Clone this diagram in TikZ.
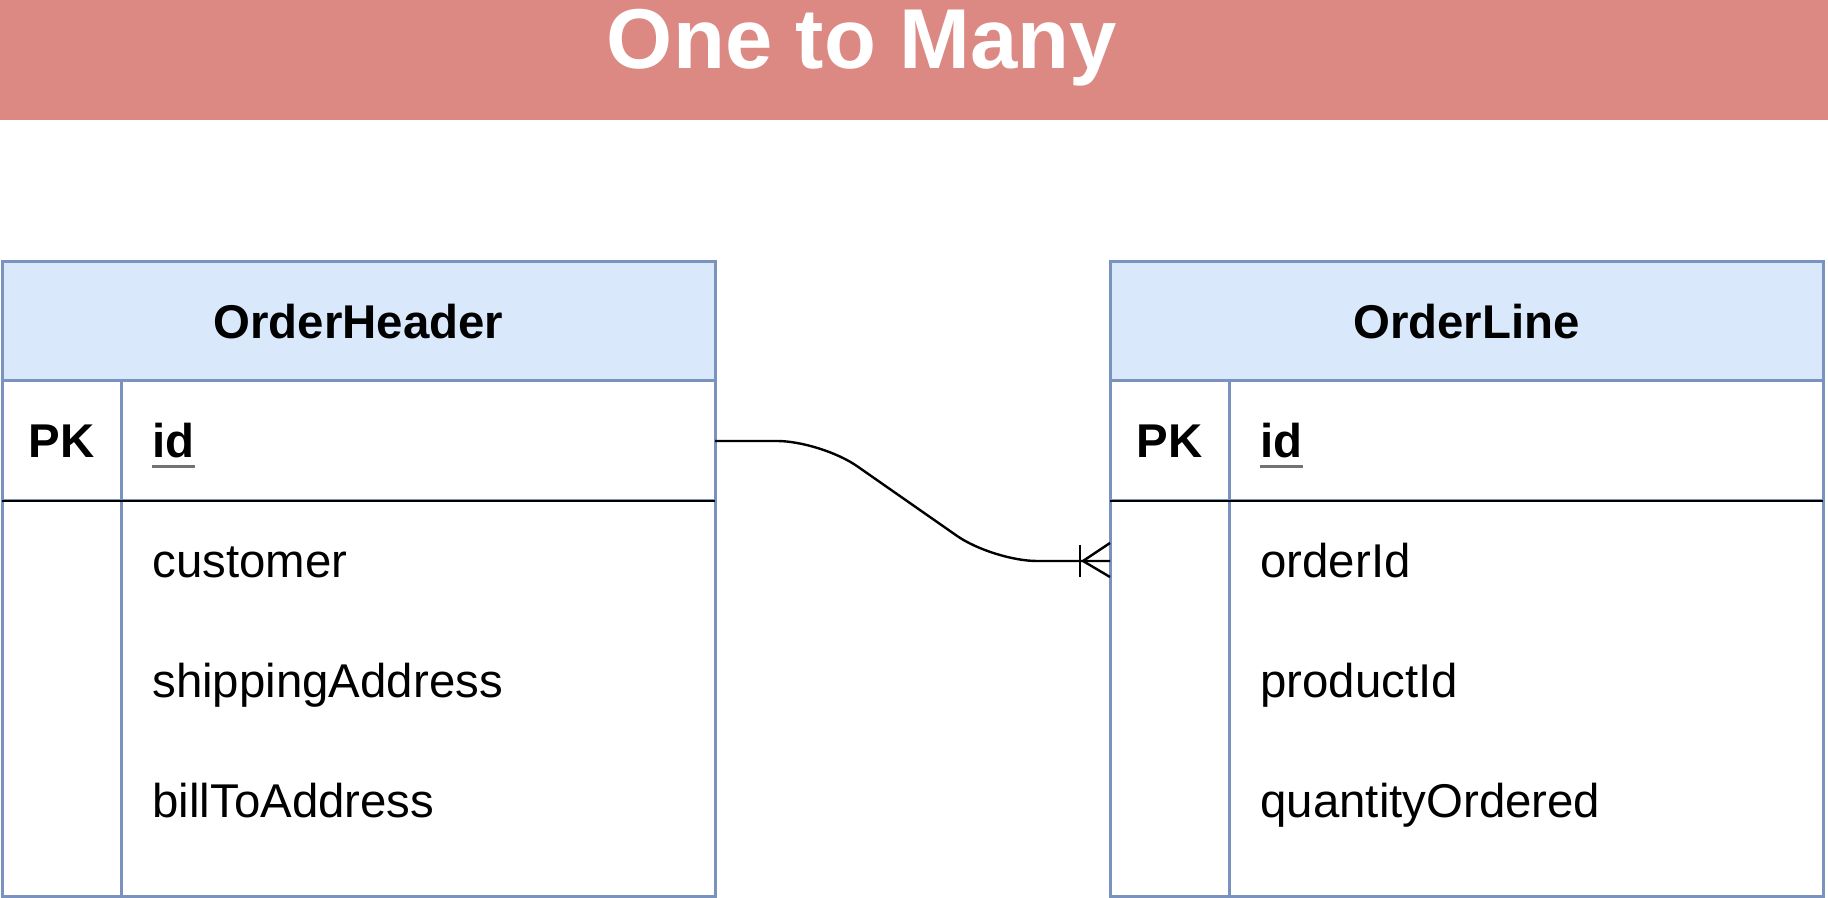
\documentclass[tikz,border=0pt]{standalone}
\usepackage{fontspec}
\setmainfont{Liberation Sans}
\usetikzlibrary{positioning,calc}

\definecolor{titlered}{RGB}{220,137,132}
\definecolor{headblue}{RGB}{218,232,252}
\definecolor{lineblue}{RGB}{122,146,190}

\tikzset{
  titlebar/.style={fill=titlered, minimum width=914pt, minimum height=60pt, inner sep=0pt, outer sep=0pt},
  titletext/.style={text=white, font=\fontsize{42.5}{50}\selectfont\bfseries, inner sep=0pt, anchor=base},
  headbox/.style={draw=lineblue, fill=headblue, line width=1.5pt, minimum width=356.5pt, minimum height=59.5pt, inner sep=0pt, outer sep=0pt, font=\fontsize{23.7}{28}\selectfont\bfseries},
  keyrow/.style={draw=lineblue, line width=1.5pt, minimum width=356.5pt, minimum height=60pt, inner sep=0pt, outer sep=0pt},
  bodybox/.style={draw=lineblue, line width=1.5pt, minimum width=356.5pt, minimum height=197.5pt, inner sep=0pt, outer sep=0pt},
  keytext/.style={font=\fontsize{23.7}{28}\selectfont\bfseries, inner sep=0pt, text height=17pt, text depth=0pt},
  fieldtext/.style={font=\fontsize{23.7}{28}\selectfont, anchor=west, inner sep=0pt, text height=17pt, text depth=0pt},
  colline/.style={draw=lineblue, line width=1.5pt},
  keyline/.style={draw=black, line width=1.2pt},
  idline/.style={draw=black!55, line width=1.4pt},
  conn/.style={draw=black, line width=1.2pt}
}

\begin{document}
\begin{tikzpicture}[x=0.5pt, y=-0.5pt]
  \useasboundingbox (0,0) rectangle (1828,898);

  % title
  \node[titlebar] (bar) at (914,60) {};
  \node[titletext] (title) at (862,69) {One to Many};

  % OrderHeader table
  \node[headbox] (ohhead) at (358.5,321.5) {OrderHeader};
  \node[keyrow, below=0pt of ohhead] (ohpk) {};
  \node[bodybox, below=0pt of ohpk] (ohbody) {};
  \draw[colline] ($(ohpk.north west)+(119,0)$) -- ($(ohbody.south west)+(119,0)$);
  \draw[keyline] (ohpk.south west) -- (ohpk.south east);
  \node[keytext] (ohkey) at ($(ohpk.west)+(59.5,0)$) {PK};
  \node[fieldtext, font=\fontsize{23.7}{28}\selectfont\bfseries] (ohid) at ($(ohpk.west)+(150,0)$) {id};
  \draw[idline] ($(ohid.south west)+(0,8)$) -- ($(ohid.south east)+(0,8)$);
  \node[fieldtext] (ohcust) at ($(ohbody.north west)+(150,60)$) {customer};
  \node[fieldtext] (ohship) at ($(ohbody.north west)+(150,179.5)$) {shippingAddress};
  \node[fieldtext] (ohbill) at ($(ohbody.north west)+(150,299)$) {billToAddress};

  % OrderLine table
  \node[headbox] (olhead) at (1466.5,321.5) {OrderLine};
  \node[keyrow, below=0pt of olhead] (olpk) {};
  \node[bodybox, below=0pt of olpk] (olbody) {};
  \draw[colline] ($(olpk.north west)+(119,0)$) -- ($(olbody.south west)+(119,0)$);
  \draw[keyline] (olpk.south west) -- (olpk.south east);
  \node[keytext] (olkey) at ($(olpk.west)+(59.5,0)$) {PK};
  \node[fieldtext, font=\fontsize{23.7}{28}\selectfont\bfseries] (olid) at ($(olpk.west)+(150,0)$) {id};
  \draw[idline] ($(olid.south west)+(0,8)$) -- ($(olid.south east)+(0,8)$);
  \node[fieldtext] (olorder) at ($(olbody.north west)+(150,60)$) {orderId};
  \node[fieldtext] (olprod) at ($(olbody.north west)+(150,179.5)$) {productId};
  \node[fieldtext] (olqty) at ($(olbody.north west)+(150,299)$) {quantityOrdered};

  % one to many link
  \coordinate (olfk) at ($(olbody.north west)+(0,60)$);
  \draw[conn, rounded corners=22pt] (ohpk.east) -- ++(106,0) -- ($(olfk)+(-117,0)$) -- (olfk);
  \draw[conn] ($(olfk)+(-30,-16)$) -- ($(olfk)+(-30,16)$);
  \draw[conn] ($(olfk)+(0,-18)$) -- ($(olfk)+(-27,0)$) -- ($(olfk)+(0,16)$);
\end{tikzpicture}
\end{document}
